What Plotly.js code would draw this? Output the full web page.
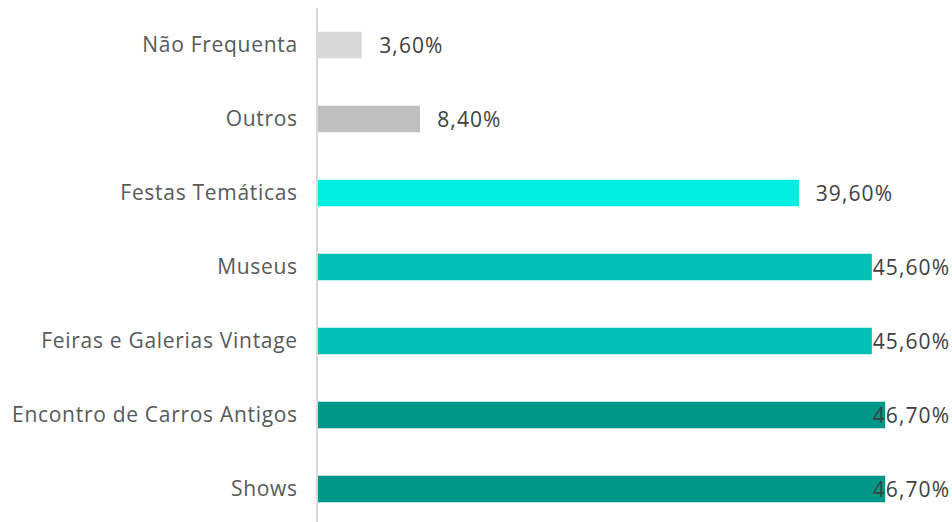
<!DOCTYPE html>
<html>
<head>
<meta charset="utf-8">
<script src="https://cdn.plot.ly/plotly-3.0.1.min.js"></script>
<style>
html,body{margin:0;padding:0;background:#fff;}
#chart{width:952px;height:522px;}
#chart .ytick text{letter-spacing:0.7px;}
#chart .annotation-text{letter-spacing:1.1px;}
</style>
</head>
<body>
<div id="chart"></div>
<script>
const categories = ["Shows", "Encontro de Carros Antigos", "Feiras e Galerias Vintage", "Museus", "Festas Temáticas", "Outros", "Não Frequenta"];
const values = [46.7, 46.7, 45.6, 45.6, 39.6, 8.4, 3.6];
const labels = ["46,70%", "46,70%", "45,60%", "45,60%", "39,60%", "8,40%", "3,60%"];
const colors = ["#009688", "#009688", "#00BFB5", "#00BFB5", "#00EEE2", "#BFBFBF", "#D9D9D9"];

const W = 952, H = 522;
const FONT = '"Open Sans", sans-serif';
const margin = {l: 318, r: 0, t: 8, b: 0};
const xMax = 52.2;
const plotW = W - margin.l - margin.r;
const pxPerUnit = plotW / xMax;
const labelW = 77, gap = 18, rightPad = 3;

const annotations = values.map((v, i) => {
  const fits = v * pxPerUnit + gap + labelW <= plotW - rightPad;
  const base = {y: categories[i], yref: 'y', text: labels[i], showarrow: false,
    font: {family: FONT, size: 21, color: '#404040'}, yanchor: 'middle'};
  if (fits) return Object.assign(base, {x: v, xref: 'x', xanchor: 'left', xshift: gap});
  return Object.assign(base, {x: 1, xref: 'paper', xanchor: 'right', xshift: -rightPad});
});

const trace = {
  type: 'bar', orientation: 'h', y: categories, x: values,
  marker: {color: colors}, width: 0.36, hoverinfo: 'none'
};

const layout = {
  width: W, height: H, margin: margin,
  paper_bgcolor: '#fff', plot_bgcolor: '#fff', showlegend: false,
  font: {family: FONT, size: 21, color: '#595959'},
  xaxis: {range: [0, xMax], visible: false, fixedrange: true},
  yaxis: {type: 'category', range: [-0.446, 6.5], showline: true, linecolor: '#D9D9D9', linewidth: 2,
    ticks: '', showgrid: false, zeroline: false, ticklabelstandoff: 14,
    tickfont: {family: FONT, size: 21, color: '#595959'}},
  annotations: annotations
};

Plotly.newPlot('chart', [trace], layout, {displayModeBar: false, staticPlot: true});
</script>
</body>
</html>
